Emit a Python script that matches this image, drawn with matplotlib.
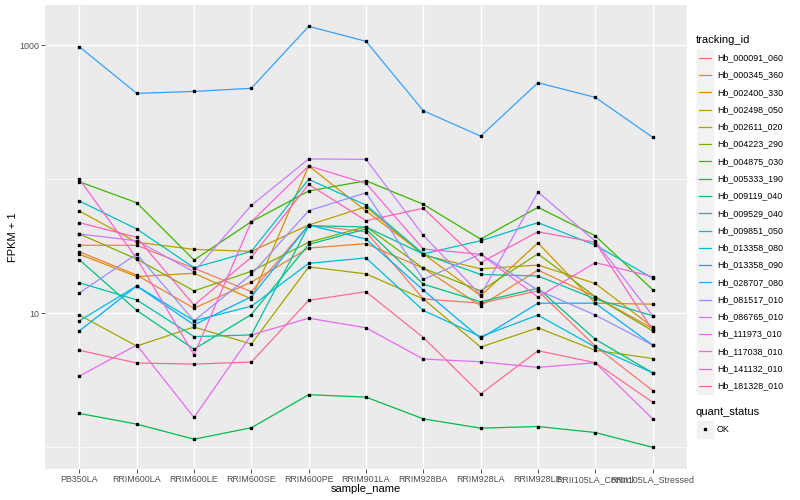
import numpy as np
import matplotlib
matplotlib.use("Agg")
import matplotlib.pyplot as plt
from matplotlib.patches import Rectangle
from matplotlib.lines import Line2D

plt.rcParams['font.family'] = ['Liberation Sans', 'DejaVu Sans']

samples = ["PB350LA", "RRIM600LA", "RRIM600LE", "RRIM600SE", "RRIM600PE",
           "RRIM901LA", "RRIM928BA", "RRIM928LA", "RRIM928LE",
           "RRII105LA_Control", "RRII105LA_Stressed"]

tracking_ids = ["Hb_000091_060", "Hb_000345_360", "Hb_002400_330", "Hb_002498_050",
                "Hb_002611_020", "Hb_004223_290", "Hb_004875_030", "Hb_005333_190",
                "Hb_009119_040", "Hb_009529_040", "Hb_009851_050", "Hb_013358_080",
                "Hb_013358_090", "Hb_028707_080", "Hb_081517_010", "Hb_086765_010",
                "Hb_111973_010", "Hb_117038_010", "Hb_141132_010", "Hb_181328_010"]

# colores por defecto de ggplot (hue_pal, 20 niveles)
colores = ["#F8766D", "#EA8331", "#D89000", "#C09B00", "#A3A500", "#7CAE00",
           "#39B600", "#00BB4E", "#00BF7D", "#00C1A3", "#00BFC4", "#00BAE0",
           "#00B0F6", "#35A2FF", "#9590FF", "#C77CFF", "#E76BF3", "#FA62DB",
           "#FF62BC", "#FF6C91"]

# FPKM + 1 por gen (orden de samples)
hb_000091_060 = [32.2, 32.2, 21.7, 14.5, 45.6, 40.6, 12.8, 11.9, 14.7, 5.7, 2.65]
hb_000345_360 = [28.8, 19.3, 10.9, 17.1, 30.7, 33.1, 21.7, 11.4, 21.0, 13.3, 7.7]
hb_002400_330 = [27.6, 18.8, 19.9, 12.8, 126, 58, 27.8, 13.5, 33.6, 11.9, 11.7]
hb_002498_050 = [58, 33.9, 30, 29, 45.6, 62.4, 27.2, 21.5, 22.9, 16.7, 7.9]
hb_002611_020 = [9.7, 5.7, 7.9, 5.9, 22.2, 19.7, 12.8, 5.6, 7.8, 5.3, 4.6]
hb_004223_290 = [39.1, 25.4, 14.7, 20.6, 33.9, 44.3, 21.7, 14.7, 27.8, 13.3, 7.4]
hb_004875_030 = [95.9, 66.9, 25, 48.3, 81.8, 97.6, 65.1, 35.8, 61.8, 37.9, 15]
hb_005333_190 = [1.79, 1.49, 1.15, 1.40, 2.47, 2.37, 1.63, 1.39, 1.43, 1.29, 1.0]
hb_009119_040 = [25.1, 10.5, 5.4, 9.8, 32.7, 42.6, 16.5, 12.2, 15.4, 6.4, 3.6]
hb_009529_040 = [16.9, 12.6, 6.7, 6.9, 45.1, 44.1, 27.7, 19.5, 19.0, 12.8, 9.6]
hb_009851_050 = [68.9, 42.6, 21.9, 29, 100, 64.3, 27.8, 34.8, 47.5, 32.3, 18.3]
hb_013358_080 = [8.8, 16, 8.8, 11.3, 23.6, 25.9, 10.5, 6.7, 9.7, 5.6, 3.6]
hb_013358_090 = [7.4, 16, 8.2, 13.3, 45.6, 35.8, 14.9, 6.5, 11.9, 11.9, 5.8]
hb_028707_080 = [976, 438, 453, 478, 1386, 1071, 325, 210, 526, 409, 206]
hb_081517_010 = [14.2, 27.7, 8.8, 19.5, 58.3, 79.4, 17.9, 27.7, 14.9, 9.7, 5.8]
hb_086765_010 = [39.1, 34.8, 20.4, 64, 142, 141, 38.2, 13.7, 80.4, 34.6, 9.6]
hb_111973_010 = [3.4, 5.8, 1.67, 6.9, 9.2, 7.8, 4.56, 4.35, 3.95, 4.28, 1.63]
hb_117038_010 = [100, 25.7, 4.9, 48.3, 126, 93.3, 30.2, 27.6, 13.2, 23.9, 18.8]
hb_141132_010 = [47.5, 36.9, 11.5, 26.2, 91.8, 49.1, 60.8, 23.9, 40.6, 33.9, 7.5]
hb_181328_010 = [5.3, 4.26, 4.18, 4.33, 12.5, 14.5, 6.6, 2.5, 5.26, 4.28, 2.17]

series = [hb_000091_060, hb_000345_360, hb_002400_330, hb_002498_050, hb_002611_020,
          hb_004223_290, hb_004875_030, hb_005333_190, hb_009119_040, hb_009529_040,
          hb_009851_050, hb_013358_080, hb_013358_090, hb_028707_080, hb_081517_010,
          hb_086765_010, hb_111973_010, hb_117038_010, hb_141132_010, hb_181328_010]

W, H = 800, 500
fig = plt.figure(figsize=(8, 5), dpi=100)
ax = fig.add_axes([45 / W, 1 - 469 / H, (687 - 45) / W, (469 - 5) / H])
ax.set_facecolor("#EBEBEB")

x = np.arange(len(samples))
for valores, color in zip(series, colores):
    ax.plot(x, valores, color=color, lw=0.9, zorder=3)
for valores in series:
    ax.plot(x, valores, ls="none", marker="s", ms=2.0, color="black", zorder=4)

ax.set_yscale("log")
ax.set_ylim(0.689, 2000)
ax.set_xlim(-0.6, len(samples) - 0.4)
ax.set_yticks([10, 1000])
ax.set_yticklabels(["10", "1000"])
ax.set_yticks([1, 100], minor=True)
ax.yaxis.set_minor_formatter(plt.NullFormatter())
ax.set_xticks(x)
ax.set_xticklabels(samples)

ax.grid(which="major", color="white", lw=1.0, zorder=1)
ax.grid(which="minor", axis="y", color="white", lw=0.5, zorder=1)
ax.set_axisbelow(True)
for s in ax.spines.values():
    s.set_visible(False)
ax.tick_params(which="major", length=2.7, width=0.6, color="#333333",
               labelsize=6.4, labelcolor="#4D4D4D", pad=1.5)
ax.tick_params(which="minor", length=0)

ax.set_xlabel("sample_name", fontsize=8, color="black", labelpad=0)
ax.set_ylabel("FPKM + 1", fontsize=8, color="black", labelpad=1)

# leyenda tracking_id
def fx(px):
    return px / W

def fy(py):
    return 1 - py / H

fig.text(fx(696), fy(40), "tracking_id", fontsize=8, va="center", ha="left")
for i, (nombre, color) in enumerate(zip(tracking_ids, colores)):
    yc = 57.7 + i * 17.28
    fig.patches.append(Rectangle((fx(697), fy(yc + 8.2)), 16 / W, 16.4 / H,
                                 transform=fig.transFigure, color="#F2F2F2", zorder=1))
    fig.lines.append(Line2D([fx(699), fx(711)], [fy(yc), fy(yc)], color=color, lw=0.9,
                            transform=fig.transFigure))
    fig.text(fx(717), fy(yc), nombre, fontsize=6.4, va="center", ha="left")

fig.text(fx(696), fy(412), "quant_status", fontsize=8, va="center", ha="left")
fig.patches.append(Rectangle((fx(697), fy(429.3 + 8.2)), 16 / W, 16.4 / H,
                             transform=fig.transFigure, color="#F2F2F2", zorder=1))
fig.lines.append(Line2D([fx(705)], [fy(429.3)], marker="s", ms=2.0, color="black",
                        transform=fig.transFigure))
fig.text(fx(717), fy(429.3), "OK", fontsize=6.4, va="center", ha="left")

fig.savefig("out.png", dpi=100)
